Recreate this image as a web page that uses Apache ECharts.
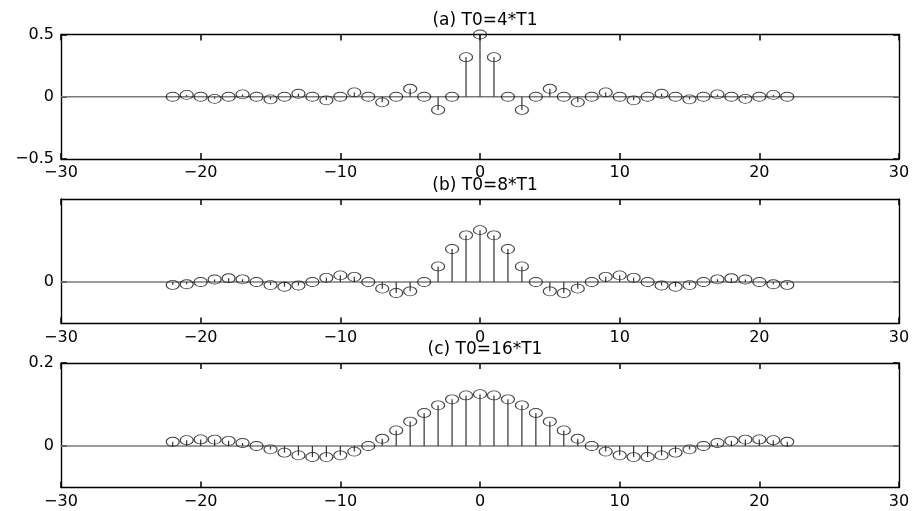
<!DOCTYPE html>
<html>
<head>
<meta charset="utf-8">
<script src="https://cdn.jsdelivr.net/npm/echarts@6/dist/echarts.min.js"></script>
<style>html,body{margin:0;padding:0;background:#fff}#c{width:914px;height:511px}</style>
</head>
<body>
<div id="c"></div>
<script>
// harmonic index k
const kValues = [-22,-21,-20,-19,-18,-17,-16,-15,-14,-13,-12,-11,-10,-9,-8,-7,-6,-5,-4,-3,-2,-1,0,1,2,3,4,5,6,7,8,9,10,11,12,13,14,15,16,17,18,19,20,21,22];
// (a) T0=4*T1
const valuesA = [0,0.015,0,-0.017,0,0.019,0,-0.021,0,0.024,0,-0.029,0,0.035,0,-0.045,0,0.064,0,-0.106,0,0.318,0.5,0.318,0,-0.106,0,0.064,0,-0.045,0,0.035,0,-0.029,0,0.024,0,-0.021,0,0.019,0,-0.017,0,0.015,0];
// (b) T0=8*T1
const valuesB = [-0.014,-0.011,0,0.012,0.018,0.013,0,-0.015,-0.023,-0.017,0,0.020,0.032,0.025,0,-0.032,-0.053,-0.045,0,0.075,0.159,0.225,0.25,0.225,0.159,0.075,0,-0.045,-0.053,-0.032,0,0.025,0.032,0.020,0,-0.017,-0.023,-0.015,0,0.013,0.018,0.012,0,-0.011,-0.014];
// (c) T0=16*T1
const valuesC = [0.0102,0.0140,0.0159,0.0155,0.0125,0.0072,0,-0.0081,-0.0161,-0.0226,-0.0265,-0.0267,-0.0225,-0.0135,0,0.0174,0.0375,0.0588,0.0796,0.0980,0.1125,0.1218,0.125,0.1218,0.1125,0.0980,0.0796,0.0588,0.0375,0.0174,0,-0.0135,-0.0225,-0.0267,-0.0265,-0.0226,-0.0161,-0.0081,0,0.0072,0.0125,0.0155,0.0159,0.0140,0.0102];

const titles = ['(a) T0=4*T1','(b) T0=8*T1','(c) T0=16*T1'];
const yRanges = [[-0.5,0.5],[-0.2,0.4],[-0.1,0.2]];
const yTickVals = [[-0.5,0,0.5],[0],[0,0.2]];
const allValues = [valuesA, valuesB, valuesC];

const FONT = 'DejaVu Sans, Verdana, sans-serif';
const gridTops = [34.5, 199, 363];
const gridH = 124.5;
const fmt = v => {
  let s = (Math.abs(v) < 1e-9) ? '0' : String(+v.toFixed(2));
  return s.replace('-', '\u2212');
};
const ellipse = 'path://M0,4.5 A6.5,4.5 0 1,1 13,4.5 A6.5,4.5 0 1,1 0,4.5 Z';

const grid = [], xAxis = [], yAxis = [], series = [], title = [];
for (let i = 0; i < 3; i++) {
  grid.push({left: 61, right: 15, top: gridTops[i], height: gridH, show: false});
  title.push({text: titles[i], left: 480, top: gridTops[i] - 27, textAlign: 'center',
    textStyle: {fontFamily: FONT, fontSize: 17, fontWeight: 'normal', color: '#000'}});
  for (const pos of ['bottom', 'top']) {
    xAxis.push({gridIndex: i, type: 'value', min: -30, max: 30, interval: 10, position: pos,
      splitLine: {show: false},
      axisLine: {show: true, onZero: false, lineStyle: {color: '#000', width: 1.4}},
      axisTick: {show: true, inside: true, length: 6, lineStyle: {color: '#000', width: 1.5}},
      axisLabel: pos === 'bottom'
        ? {show: true, margin: 6, fontFamily: FONT, fontSize: 16, color: '#000', formatter: fmt}
        : {show: false}});
  }
  for (const pos of ['left', 'right']) {
    yAxis.push({gridIndex: i, type: 'value', min: yRanges[i][0], max: yRanges[i][1], position: pos,
      splitLine: {show: false},
      axisLine: {show: true, onZero: false, lineStyle: {color: '#000', width: 1.4}},
      axisTick: {show: true, inside: true, length: 6, customValues: yTickVals[i], lineStyle: {color: '#000', width: 1.5}},
      axisLabel: pos === 'left'
        ? {show: true, margin: 7, fontFamily: FONT, fontSize: 16, color: '#000', formatter: fmt, customValues: yTickVals[i]}
        : {show: false}});
  }

  const data = kValues.map((k, j) => [k, allValues[i][j]]);
  // baseline
  series.push({type: 'line', xAxisIndex: 2*i, yAxisIndex: 2*i, data: [[-30,0],[30,0]],
    symbol: 'none', silent: true, lineStyle: {color: '#7a7a7a', width: 1.3}, z: 1, animation: false});
  // stems
  series.push({type: 'custom', xAxisIndex: 2*i, yAxisIndex: 2*i, data: data, z: 2, animation: false,
    renderItem: (params, api) => {
      const p0 = api.coord([api.value(0), 0]);
      const p1 = api.coord([api.value(0), api.value(1)]);
      return {type: 'line', shape: {x1: p0[0], y1: p0[1], x2: p1[0], y2: p1[1]},
        style: {stroke: '#333', lineWidth: 1.2}};
    }});
  // markers
  series.push({type: 'scatter', xAxisIndex: 2*i, yAxisIndex: 2*i, data: data, z: 3, animation: false,
    symbol: ellipse, symbolSize: [13, 9],
    itemStyle: {color: 'rgba(0,0,0,0)', borderColor: '#111', borderWidth: 1}});
}

const chart = echarts.init(document.getElementById('c'), null, {renderer: 'canvas'});
chart.setOption({animation: false, backgroundColor: '#fff', title, grid, xAxis, yAxis, series});
</script>
</body>
</html>
